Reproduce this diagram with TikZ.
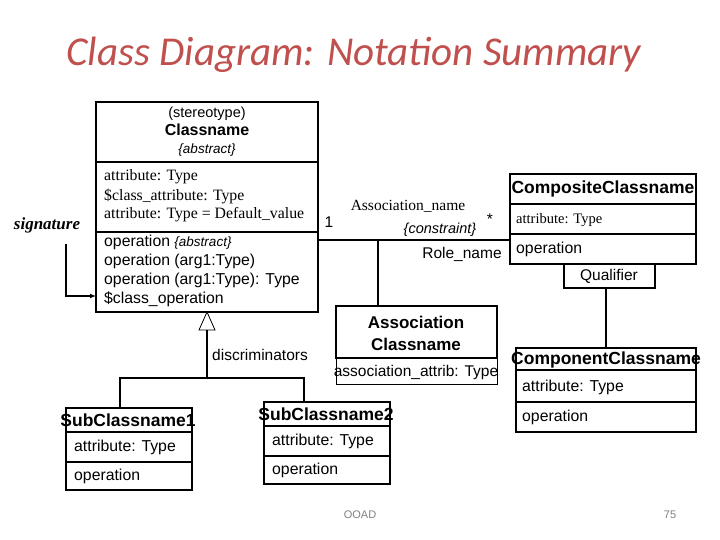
\documentclass[tikz,border=0pt]{standalone}
\usepackage{fontspec}
\setmainfont{Liberation Sans}
\newfontfamily\serifx{Liberation Serif}
\newfontfamily\calib{Carlito}
\usetikzlibrary{arrows.meta}
\definecolor{titlered}{HTML}{C0504D}
\begin{document}
\begin{tikzpicture}[x=1pt,y=-1pt,
  box/.style={draw,line width=1.4pt},
  ln/.style={line width=1.4pt},
  sa/.style={font=\fontsize{15.8}{18}\selectfont,anchor=west,inner sep=0},
  se/.style={font=\serifx\fontsize{15.8}{18}\selectfont,anchor=west,inner sep=0},
  bn/.style={font=\bfseries\fontsize{17.5}{20}\selectfont,inner sep=0}]
\useasboundingbox (0,0) rectangle (720,540);
\node[font=\calib\itshape\fontsize{41}{46}\selectfont,text=titlered] (title) at (354,55) {Class Diagram: Notation Summary};
% main class
\draw[box] (96,102) rectangle (318,312);
\draw[ln] (96,162)--(318,162) (96,232)--(318,232);
\node[font=\fontsize{14.5}{16}\selectfont] (st) at (207,114) {(stereotype)};
\node[bn,font=\bfseries\fontsize{16}{18}\selectfont] (cn) at (207,130) {Classname};
\node[font=\itshape\fontsize{13.5}{15}\selectfont] (ab) at (207,150) {\{abstract\}};
\node[se] (a1) at (104,177) {attribute: Type};
\node[se] (a2) at (104,196) {\$class\_attribute: Type};
\node[se] (a3) at (104,215) {attribute: Type = Default\_value};
\node[sa] (o1) at (104,242) {operation {\itshape\fontsize{13.5}{15}\selectfont \{abstract\}}};
\node[sa] (o2) at (104,261) {operation (arg1:Type)};
\node[sa] (o3) at (104,280) {operation (arg1:Type): Type};
\node[sa] (o4) at (104,299) {\$class\_operation};
\node[font=\serifx\bfseries\itshape\fontsize{17}{19}\selectfont] (sig) at (47,225) {signature};
\coordinate (s1) at (66,244);
\coordinate (s2) at (66,296);
\coordinate (s3) at (96,296);
\draw[ln,-{Latex[length=6pt,width=5pt]}] (s1)--(s2)--(s3);
% composite
\draw[box] (510,174) rectangle (696,264);
\draw[ln] (510,204)--(696,204) (510,234)--(696,234);
\node[bn] (comp) at (603,189) {CompositeClassname};
\node[se,font=\serifx\fontsize{14.5}{16}\selectfont] (ca) at (516,220) {attribute: Type};
\node[sa] (co) at (516,249) {operation};
\draw[box] (564,264) rectangle (655,288);
\node[font=\fontsize{15.5}{17}\selectfont] (q) at (609,276) {Qualifier};
% association
\coordinate (am) at (378,240);
\draw[ln] (318,240)--(510,240);
\node[font=\fontsize{15.5}{17}\selectfont] (one) at (329,222) {1};
\node[font=\serifx\fontsize{15.5}{17}\selectfont] (an) at (408,206) {Association\_name};
\node[font=\itshape\fontsize{14.5}{16}\selectfont] (cs) at (440,230) {\{constraint\}};
\node[font=\fontsize{15.5}{17}\selectfont] (star) at (490,219) {*};
\node[font=\fontsize{15.5}{17}\selectfont] (rn) at (462,254) {Role\_name};
% association class
\draw[box] (336,306) rectangle (497,358);
\draw[line width=0.6pt] (336,358) rectangle (497,384);
\node[bn,align=center,font=\bfseries\fontsize{17}{22}\selectfont] (acn) at (416,333) {Association\\Classname};
\node[font=\fontsize{15.5}{17}\selectfont] (aat) at (416,372) {association\_attrib: Type};
\draw[ln] (am)--(378,306);
% component
\draw[box] (516,348) rectangle (696,432);
\draw[ln] (516,370)--(696,370) (516,402)--(696,402);
\node[bn] (compo) at (606,360) {ComponentClassname};
\node[sa] (cpa) at (522,387) {attribute: Type};
\node[sa] (cpo) at (522,417) {operation};
\draw[ln] (606,288)--(606,348);
% generalization
\draw[line width=0.8pt,fill=white] (207,312)--(199,330)--(215,330)--cycle;
\draw[ln] (207,330)--(207,378) (120,408)--(120,378)--(304,378)--(304,402);
\node[font=\fontsize{15.5}{17}\selectfont] (disc) at (260,355) {discriminators};
\draw[box] (66,408) rectangle (192,490);
\draw[ln] (66,432)--(192,432) (66,462)--(192,462);
\node[bn] (s1n) at (128,420) {SubClassname1};
\node[sa] (s1a) at (74,447) {attribute: Type};
\node[sa] (s1o) at (74,476) {operation};
\draw[box] (264,402) rectangle (390,484);
\draw[ln] (264,426)--(390,426) (264,456)--(390,456);
\node[bn] (s2n) at (326,414) {SubClassname2};
\node[sa] (s2a) at (272,441) {attribute: Type};
\node[sa] (s2o) at (272,470) {operation};
% footer
\node[font=\fontsize{11}{12}\selectfont,text=gray] (f1) at (360,515) {OOAD};
\node[font=\fontsize{11}{12}\selectfont,text=gray] (f2) at (670,515) {75};
\end{tikzpicture}
\end{document}
